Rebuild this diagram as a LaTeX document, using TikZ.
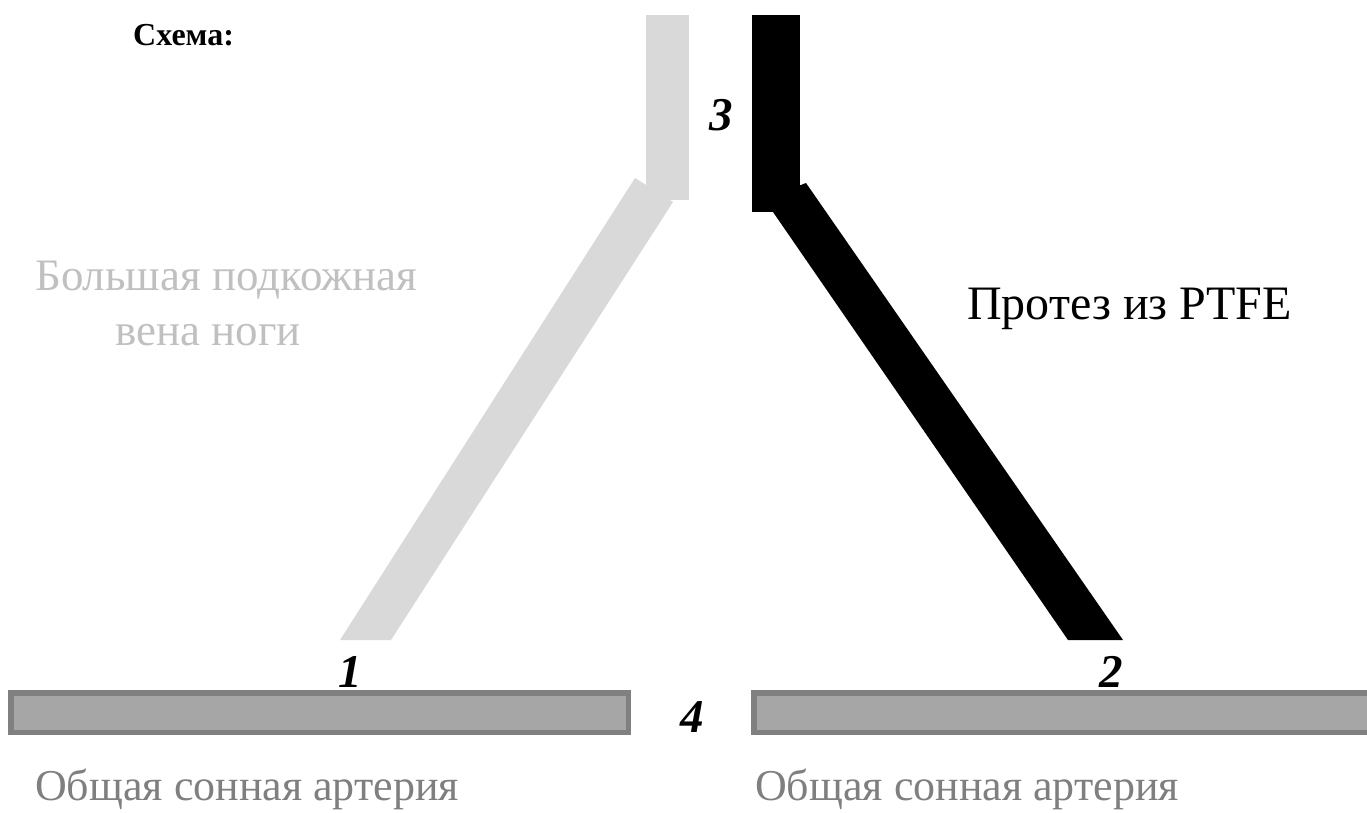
\documentclass[tikz,border=0pt]{standalone}
\usepackage{fontspec}
\setmainfont{Liberation Serif}
\definecolor{veinGray}{HTML}{D9D9D9}
\definecolor{veinText}{HTML}{C0C0C0}
\definecolor{arteryFill}{HTML}{A6A6A6}
\definecolor{arteryEdge}{HTML}{808080}
\definecolor{arteryText}{HTML}{7F7F7F}
\tikzset{
  vein/.style={fill=veinGray, draw=none},
  graft/.style={fill=black, draw=none},
  artery/.style={fill=arteryFill, draw=arteryEdge, line width=5.5pt},
  numlabel/.style={anchor=base, inner sep=0pt, font=\fontsize{47}{50}\selectfont\bfseries\itshape},
  caption/.style={anchor=base west, inner sep=0pt},
}
\begin{document}
\begin{tikzpicture}[x=1pt, y=-1pt]
  \useasboundingbox (0,0) rectangle (1367,812);

  % title line
  \node[anchor=base west, inner sep=0pt, font=\fontsize{32}{34}\selectfont\bfseries] (title) at (133,45) {Схема:};

  % saphenous vein segment (light gray)
  \path[vein] (635,178) -- (673,202) -- (391,640) -- (340,640) -- cycle;
  \path[vein] (646,15) rectangle (689,200);

  % PTFE graft (black)
  \path[graft] (806,183) -- (1123,640) -- (1068,640) -- (773,212) -- (775,195) -- cycle;
  \path[graft] (752,15) rectangle (800,212);

  % common carotid artery stumps
  \path[artery] (10.75,692.75) rectangle (628.25,732.25);
  \path[artery] (753.75,692.75) rectangle (1375,732.25);

  % numbered anastomoses
  \node[numlabel] (n3) at (721,130) {3};
  \node[numlabel] (n1) at (350,687) {1};
  \node[numlabel] (n2) at (1111,687) {2};
  \node[numlabel] (n4) at (692,732) {4};

  % captions
  \node[caption, text=veinText, font=\fontsize{45}{50}\selectfont] (vein1) at (35,290) {Большая подкожная};
  \node[anchor=base, inner sep=0pt, text=veinText, font=\fontsize{45}{50}\selectfont] (vein2) at (208,345) {вена ноги};
  \node[caption, font=\fontsize{48}{52}\selectfont] (graftlbl) at (967,319) {Протез из PTFE};
  \node[caption, text=arteryText, font=\fontsize{44}{50}\selectfont] (art1) at (35,800) {Общая сонная артерия};
  \node[caption, text=arteryText, font=\fontsize{44}{50}\selectfont] (art2) at (755,800) {Общая сонная артерия};
\end{tikzpicture}
\end{document}
